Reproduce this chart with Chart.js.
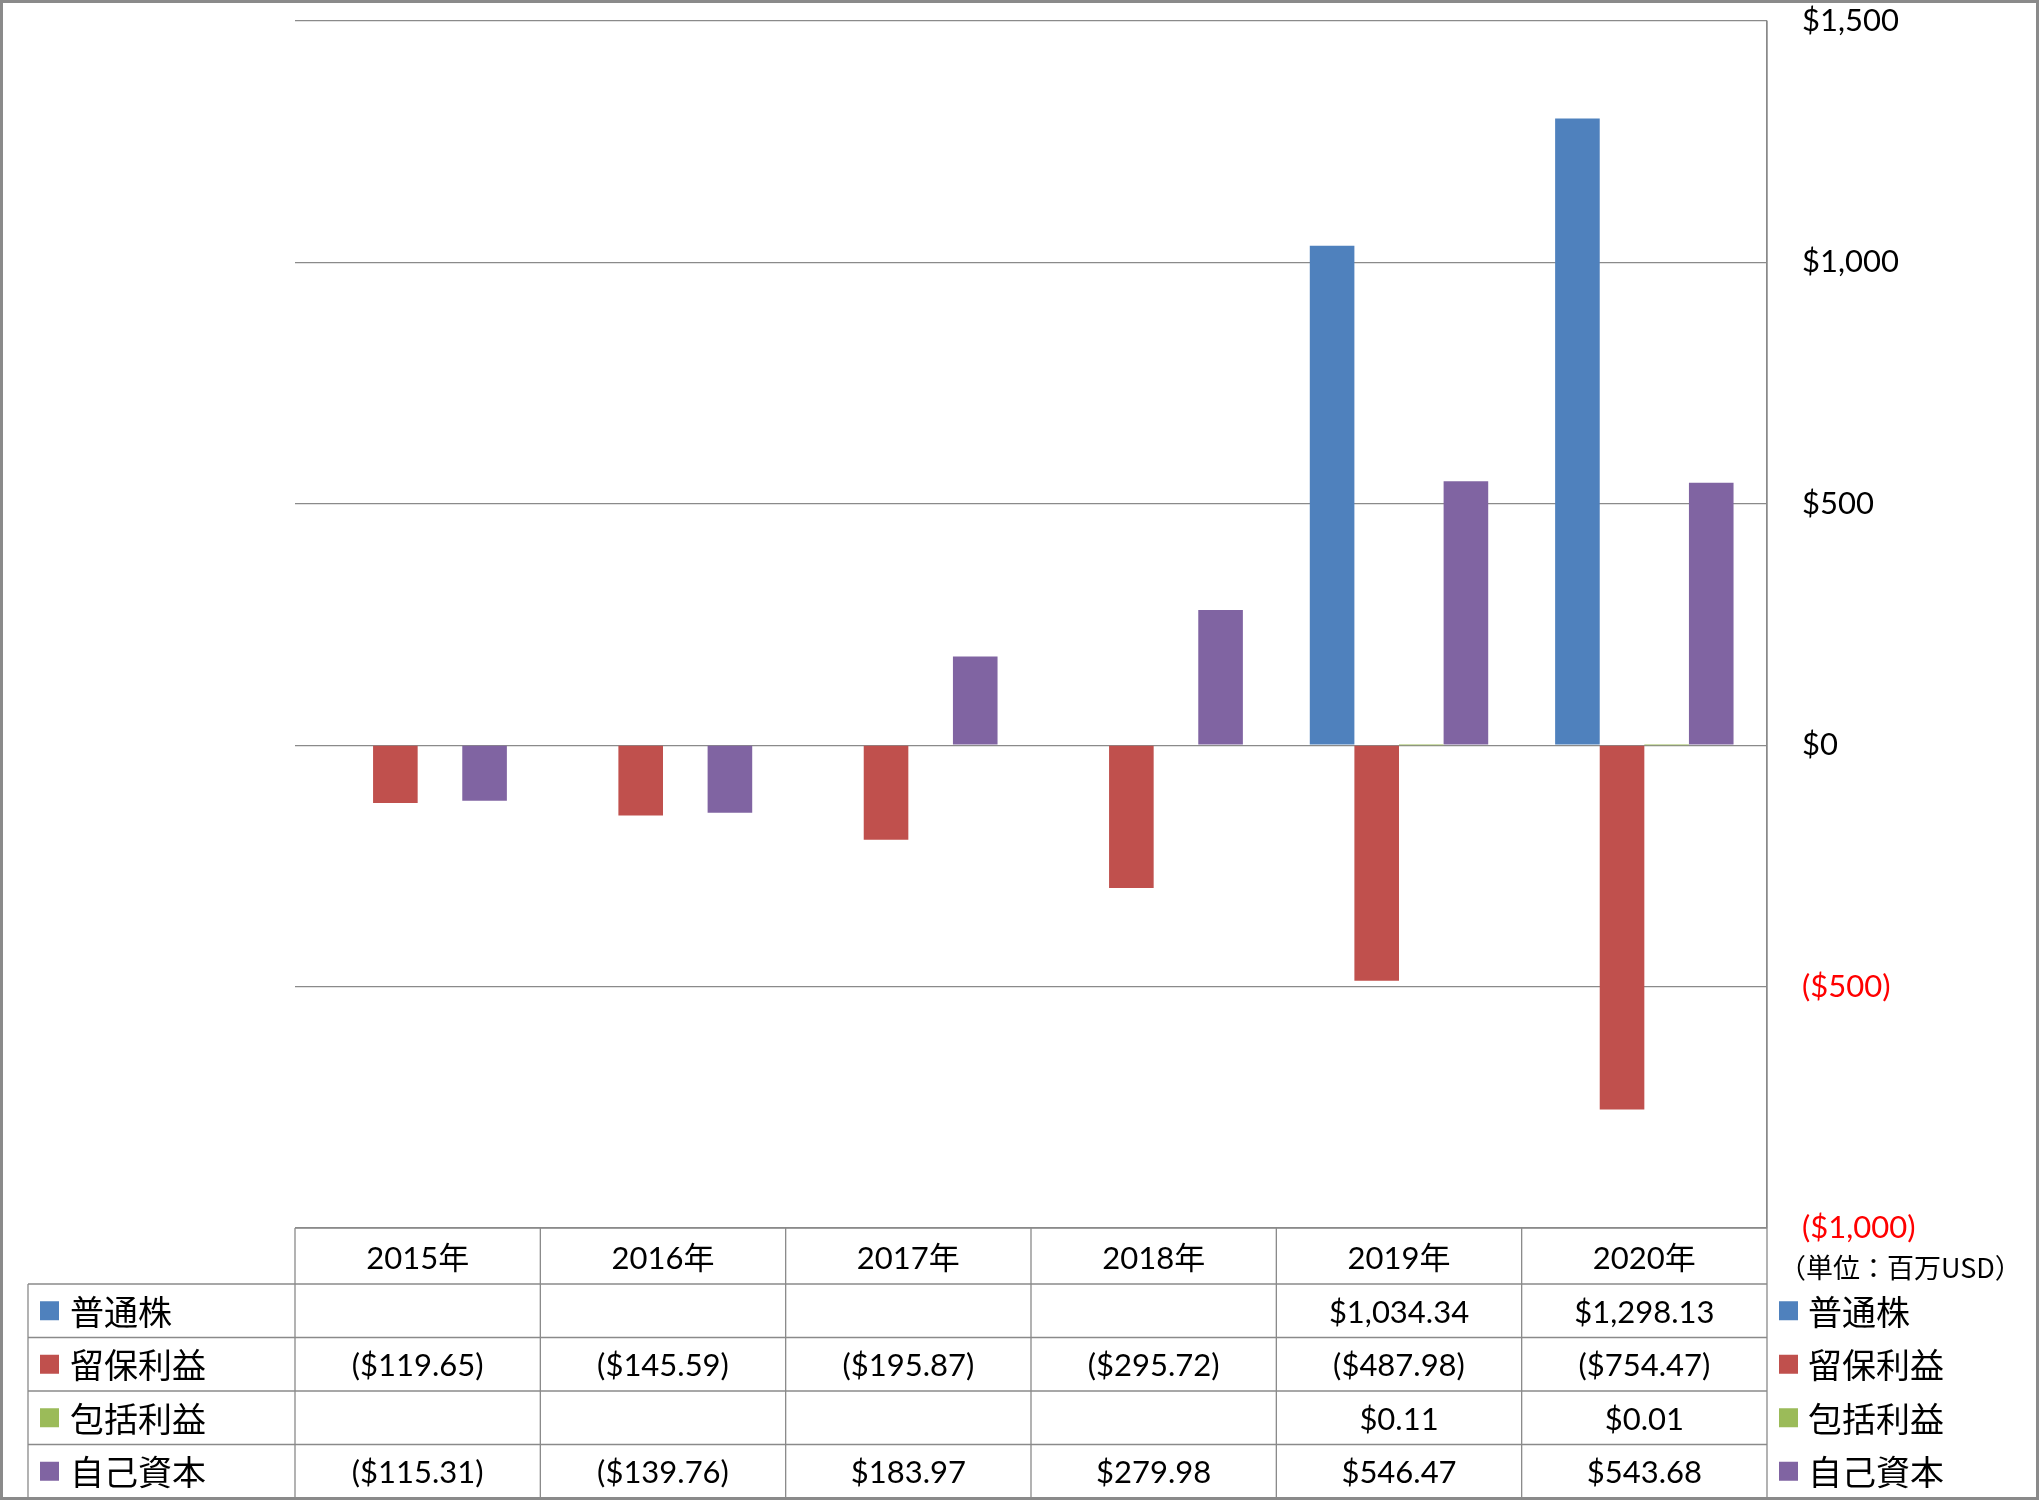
<!DOCTYPE html>
<html>
<head>
<meta charset="utf-8">
<script src="https://cdn.jsdelivr.net/npm/chart.js@4/dist/chart.umd.min.js"></script>
<style>
html,body{margin:0;padding:0;background:#fff;}
#wrap{position:relative;width:2039px;height:1500px;}
canvas{display:block;}
</style>
</head>
<body>
<div id="wrap"><canvas id="c" width="2039" height="1500"></canvas></div>
<script>
// ---- data ----
const categories = ['2015年','2016年','2017年','2018年','2019年','2020年'];
const seriesNames = ['普通株','留保利益','包括利益','自己資本'];
const commonStock = [null, null, null, null, 1034.34, 1298.13];
const retainedEarnings = [-119.65, -145.59, -195.87, -295.72, -487.98, -754.47];
const comprehensiveIncome = [null, null, null, null, 0.11, 0.01];
const equity = [-115.31, -139.76, 183.97, 279.98, 546.47, 543.68];
const yTicks = [-1000, -500, 0, 500, 1000, 1500];
const unitLabel = '（単位：百万USD）';

// ---- styles ----
const colors = ['#4F81BD', '#C0504D', '#9BBB59', '#8064A2'];
const lineGray = '#8a8a8a';
const numFont = 'Lato, "Noto Sans CJK JP", sans-serif';
const cjkFont = '"Noto Sans CJK JP", sans-serif';

function fmtMoney(v, decimals) {
  if (v === null || v === undefined) return '';
  const s = Math.abs(v).toLocaleString('en-US', {minimumFractionDigits: decimals, maximumFractionDigits: decimals});
  return v < 0 ? '($' + s + ')' : '$' + s;
}

const seriesData = [commonStock, retainedEarnings, comprehensiveIncome, equity];

const tablePlugin = {
  id: 'dataTable',
  afterDraw(chart) {
    const ctx = chart.ctx;
    const x = chart.scales.x;
    const area = chart.chartArea;
    const n = categories.length;
    const colW = (area.right - area.left) / n;
    const headerTop = area.bottom;
    const rowTop = headerTop + 56;
    const rowH = 53.5;
    const tableBottom = rowTop + rowH * 4;
    const legendLeft = 28;
    ctx.save();
    ctx.strokeStyle = lineGray;
    ctx.lineWidth = 1.3;
    ctx.beginPath();
    ctx.moveTo(area.left, headerTop); ctx.lineTo(area.right, headerTop);
    for (let r = 0; r < 4; r++) {
      const y = rowTop + r * rowH;
      ctx.moveTo(legendLeft, y); ctx.lineTo(area.right, y);
    }
    ctx.moveTo(legendLeft, rowTop); ctx.lineTo(legendLeft, tableBottom);
    for (let i = 0; i <= n; i++) {
      const xx = area.left + i * colW;
      ctx.moveTo(xx, headerTop); ctx.lineTo(xx, tableBottom);
    }
    ctx.moveTo(area.right, area.top); ctx.lineTo(area.right, tableBottom);
    ctx.stroke();

    // values
    ctx.fillStyle = '#000';
    ctx.textBaseline = 'middle';
    ctx.textAlign = 'center';
    ctx.font = '31px ' + numFont;
    for (let s = 0; s < 4; s++) {
      const cy = rowTop + s * rowH + rowH / 2 + 2;
      for (let i = 0; i < n; i++) {
        const cx = x.getPixelForValue(i);
        ctx.fillText(fmtMoney(seriesData[s][i], 2), cx, cy);
      }
    }
    // legends (left and right)
    ctx.textAlign = 'left';
    ctx.font = '34px ' + cjkFont;
    for (let s = 0; s < 4; s++) {
      const cy = rowTop + s * rowH + rowH / 2;
      ctx.fillStyle = colors[s];
      ctx.fillRect(40, cy - 9.5, 19, 19);
      ctx.fillRect(area.right + 12, cy - 9.5, 19, 19);
      ctx.fillStyle = '#000';
      ctx.fillText(seriesNames[s], 70, cy + 1);
      ctx.fillText(seriesNames[s], area.right + 41, cy + 1);
    }
    // unit label
    ctx.font = '27px ' + cjkFont;
    ctx.fillText(unitLabel, area.right + 12, 1268);

    // outer border
    ctx.strokeStyle = '#8a8a8a';
    ctx.lineWidth = 3;
    ctx.strokeRect(1.5, 1.5, chart.width - 3, chart.height - 3);
    ctx.restore();
  }
};

const datasets = seriesNames.map((name, i) => ({
  label: name,
  data: seriesData[i],
  backgroundColor: colors[i],
  borderWidth: 0,
  barPercentage: 1,
  categoryPercentage: 4 / 5.5
}));

new Chart(document.getElementById('c'), {
  type: 'bar',
  data: { labels: categories, datasets },
  options: {
    responsive: false,
    animation: false,
    devicePixelRatio: 1,
    layout: { padding: { left: 295, top: 21, right: 0, bottom: 216 } },
    plugins: { legend: { display: false }, tooltip: { enabled: false } },
    scales: {
      x: {
        position: 'bottom',
        grid: { display: false },
        border: { display: false },
        ticks: { font: { family: numFont, size: 31 }, color: '#000', padding: 4, maxRotation: 0 },
        afterFit(scale) { scale.height = 56; scale.paddingLeft = 0; scale.paddingRight = 0; }
      },
      y: {
        position: 'right',
        min: -1000,
        max: 1500,
        afterBuildTicks(scale) { scale.ticks = yTicks.map(v => ({ value: v })); },
        grid: { color: lineGray, lineWidth: 1.3, drawTicks: false },
        border: { display: true, color: lineGray, width: 1.3 },
        ticks: {
          padding: 35,
          font: { family: numFont, size: 31 },
          color: ctx => (ctx.tick && ctx.tick.value < 0 ? '#FF0000' : '#000'),
          callback: v => fmtMoney(v, 0)
        },
        afterFit(scale) { scale.width = 272; scale.paddingTop = 0; scale.paddingBottom = 0; }
      }
    }
  },
  plugins: [tablePlugin]
});
</script>
</body>
</html>
